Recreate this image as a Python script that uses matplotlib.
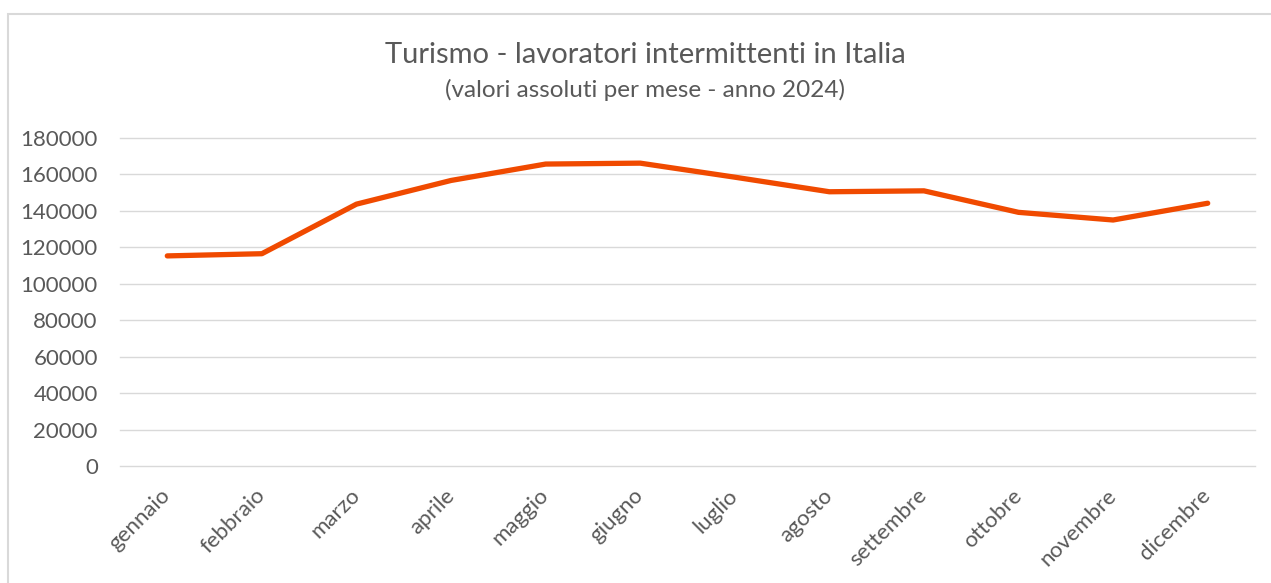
import matplotlib
matplotlib.use("Agg")
import matplotlib.pyplot as plt
from matplotlib.patches import Rectangle

# data
mesi = ["gennaio", "febbraio", "marzo", "aprile", "maggio", "giugno",
        "luglio", "agosto", "settembre", "ottobre", "novembre", "dicembre"]
lavoratori = [115300, 116500, 143700, 156700, 165700, 166200,
              158500, 150500, 151000, 139200, 135000, 144200]
y_ticks = list(range(0, 180001, 20000))

TEXT_C = "#595959"
GRID_C = "#D9D9D9"
LINE_C = "#F04A00"

plt.rcParams["font.family"] = ["Lato", "DejaVu Sans"]

fig = plt.figure(figsize=(12.71, 5.83), dpi=100)
W, H = 1271, 583

# light chart frame (left and top edges visible)
fig.patches.append(Rectangle((8 / W, -0.1), 1.2, (583 - 14) / H + 0.1,
                             transform=fig.transFigure, facecolor="none",
                             edgecolor=GRID_C, lw=1.5))

ax = fig.add_axes([120 / W, 1 - 466 / H, 1135 / W, (466 - 138) / H])
x = range(len(mesi))
ax.plot(x, lavoratori, color=LINE_C, lw=3.8, solid_capstyle="round",
        solid_joinstyle="round", zorder=3)

ax.set_xlim(-0.5, len(mesi) - 0.5)
ax.set_ylim(0, 180000)
ax.set_yticks(y_ticks)
ax.set_yticklabels([str(v) for v in y_ticks])
ax.set_xticks(list(x))
ax.set_xticklabels(mesi, rotation=45, ha="right", va="center",
                   rotation_mode="anchor")
ax.grid(axis="y", color=GRID_C, lw=1.0)
for gl in ax.get_ygridlines():
    gl.set_clip_on(False)
ax.set_axisbelow(True)
for s in ax.spines.values():
    s.set_visible(False)
ax.tick_params(axis="both", length=0, colors=TEXT_C, labelsize=16)
ax.tick_params(axis="y", pad=16)
ax.tick_params(axis="x", pad=19)

fig.text(645 / W, 1 - 55 / H, "Turismo - lavoratori intermittenti in Italia",
         ha="center", va="center", fontsize=21, color=TEXT_C)
fig.text(645 / W, 1 - 90 / H, "(valori assoluti per mese - anno 2024)",
         ha="center", va="center", fontsize=17.5, color=TEXT_C)

fig.savefig("out.png", dpi=100)
